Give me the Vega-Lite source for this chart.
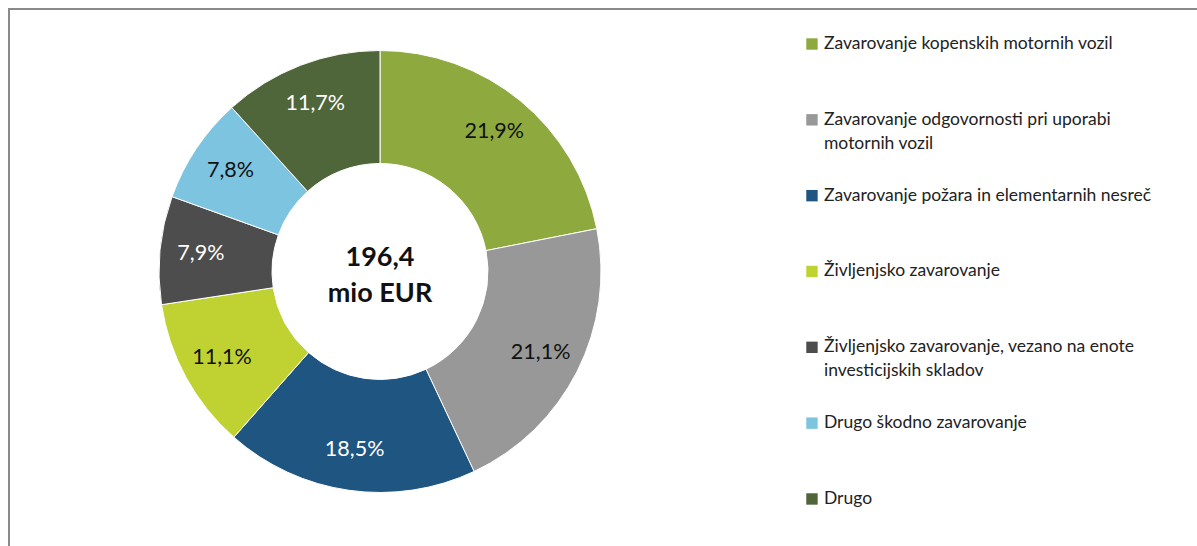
{
  "$schema": "https://vega.github.io/schema/vega-lite/v6.json",
  "width": 1197,
  "height": 546,
  "autosize": {"type": "fit", "contains": "padding"},
  "padding": {"left": 9, "top": 9, "right": -3, "bottom": -3},
  "config": {
    "view": {"stroke": "#8a8a8a", "strokeWidth": 2},
    "font": "Lato",
    "locale": {"number": {"decimal": ",", "thousands": ".", "grouping": [3], "currency": ["", " €"]}}
  },
  "datasets": {
    "slices": [
      {"row": 0, "category": "Zavarovanje kopenskih motornih vozil", "share": 0.219},
      {"row": 1, "category": "Zavarovanje odgovornosti pri uporabi\nmotornih vozil", "share": 0.211},
      {"row": 2, "category": "Zavarovanje požara in elementarnih nesreč", "share": 0.185},
      {"row": 3, "category": "Življenjsko zavarovanje", "share": 0.111},
      {"row": 4, "category": "Življenjsko zavarovanje, vezano na enote\ninvesticijskih skladov", "share": 0.079},
      {"row": 5, "category": "Drugo škodno zavarovanje", "share": 0.078},
      {"row": 6, "category": "Drugo", "share": 0.117}
    ],
    "center": [{"t": "196,4\nmio EUR"}]
  },
  "layer": [
    {
      "data": {"name": "slices"},
      "mark": {"type": "arc", "radius": 221, "radius2": 108, "stroke": "white", "strokeWidth": 1},
      "encoding": {
        "theta": {"field": "share", "type": "quantitative", "stack": true},
        "order": {"field": "row", "type": "quantitative"},
        "color": {
          "field": "category", "type": "nominal",
          "scale": {
            "domain": ["Zavarovanje kopenskih motornih vozil", "Zavarovanje odgovornosti pri uporabi\nmotornih vozil", "Zavarovanje požara in elementarnih nesreč", "Življenjsko zavarovanje", "Življenjsko zavarovanje, vezano na enote\ninvesticijskih skladov", "Drugo škodno zavarovanje", "Drugo"],
            "range": ["#8eaa3f", "#989898", "#1f5581", "#c0d232", "#4d4d4d", "#7dc4e1", "#4f663a"]
          },
          "legend": null
        },
        "x": {"datum": 31.15, "type": "quantitative", "scale": {"domain": [0, 100], "nice": false, "zero": false}, "axis": null},
        "y": {"datum": 3, "type": "quantitative", "scale": {"domain": [-0.4616, 6.6597], "reverse": true, "nice": false, "zero": false}, "axis": null}
      }
    },
    {
      "data": {"name": "slices"},
      "mark": {"type": "text", "radius": 180, "fontSize": 21.5, "align": "center", "baseline": "middle"},
      "encoding": {
        "theta": {"field": "share", "type": "quantitative", "stack": true},
        "order": {"field": "row", "type": "quantitative"},
        "text": {"field": "share", "type": "quantitative", "format": ".1%"},
        "color": {"condition": {"test": "datum.row == 2 || datum.row == 4 || datum.row == 6", "value": "#ffffff"}, "value": "#111111"},
        "x": {"datum": 31.15, "type": "quantitative"},
        "y": {"datum": 3, "type": "quantitative"}
      }
    },
    {
      "data": {"name": "center"},
      "mark": {"type": "text", "fontSize": 27, "fontWeight": "bold", "lineBreak": "\n", "lineHeight": 36, "align": "center", "baseline": "middle", "dy": -13, "color": "#111111"},
      "encoding": {
        "text": {"field": "t", "type": "nominal"},
        "x": {"datum": 31.15, "type": "quantitative"},
        "y": {"datum": 3, "type": "quantitative"}
      }
    },
    {
      "data": {"name": "slices"},
      "mark": {"type": "square", "size": 130, "filled": true, "opacity": 1},
      "encoding": {
        "color": {"field": "category", "type": "nominal", "legend": null},
        "x": {"datum": 67.42, "type": "quantitative"},
        "y": {"field": "row", "type": "quantitative"}
      }
    },
    {
      "data": {"name": "slices"},
      "mark": {"type": "text", "fontSize": 17.5, "lineBreak": "\n", "lineHeight": 24, "align": "left", "baseline": "middle", "dx": 12, "color": "#222222"},
      "encoding": {
        "text": {"field": "category", "type": "nominal"},
        "x": {"datum": 67.42, "type": "quantitative"},
        "y": {"field": "row", "type": "quantitative"}
      }
    }
  ]
}
